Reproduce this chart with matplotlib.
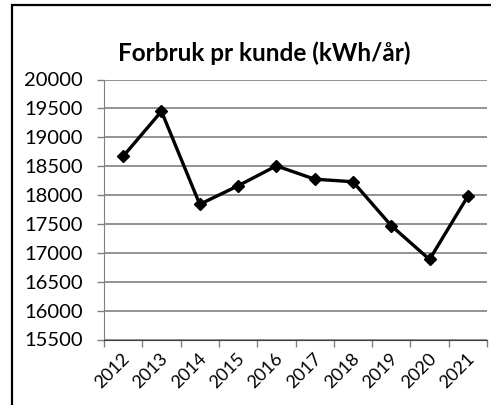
import matplotlib
matplotlib.use("Agg")
import matplotlib.pyplot as plt
from matplotlib.patches import Rectangle
import matplotlib.transforms as mtransforms

# data
years = ["2012", "2013", "2014", "2015", "2016", "2017", "2018", "2019", "2020", "2021"]
forbruk = [18670, 19450, 17840, 18160, 18505, 18275, 18230, 17470, 16885, 17980]
y_ticks = list(range(15500, 20001, 500))

plt.rcParams['font.family'] = ['Lato', 'DejaVu Sans']

fig = plt.figure(figsize=(4.91, 4.05), dpi=100)
ax = fig.add_axes([104/491, 1-339.5/405, 383/491, 260/405])

x = list(range(len(years)))
ax.plot(x, forbruk, color='black', lw=2.4, marker='D', ms=6.5, zorder=3)

ax.set_xlim(-0.5, len(years)-0.5)
ax.set_ylim(15500, 20000)
ax.set_yticks(y_ticks)
ax.set_yticklabels([str(v) for v in y_ticks], fontsize=14.5)
ax.set_xticks(x)
ax.set_xticklabels(years, rotation=45, ha='right', va='center', rotation_mode='anchor', fontsize=13)
ax.tick_params(axis='x', length=0, pad=12)
ax.tick_params(axis='y', length=5, width=1, color='#808080', pad=10)
# nudge rotated labels to the right so their end sits on the category centre
offset = mtransforms.ScaledTranslation(4/100, 0, fig.dpi_scale_trans)
for lab in ax.get_xticklabels():
    lab.set_transform(lab.get_transform() + offset)
# category boundary ticks on the x axis
ax.set_xticks([i - 0.5 for i in range(len(years)+1)], minor=True)
ax.tick_params(axis='x', which='minor', length=5, width=1, color='#808080')

ax.grid(axis='y', color='#808080', lw=1.2)
ax.set_axisbelow(True)
for s in ['top', 'right']:
    ax.spines[s].set_visible(False)
ax.spines['left'].set_color('#808080')
ax.spines['bottom'].set_color('#404040')

fig.text(264/491, 1-53/405, "Forbruk pr kunde (kWh/år)", ha='center', va='center',
         fontsize=17.5, fontweight='bold')

# outer chart border (only left and top visible in the crop)
fig.patches.append(Rectangle((12/491, -0.2), 1.2, 1.2 - 5/405, transform=fig.transFigure,
                             fill=False, edgecolor='black', lw=1.6))

fig.savefig("out.png", dpi=100)
